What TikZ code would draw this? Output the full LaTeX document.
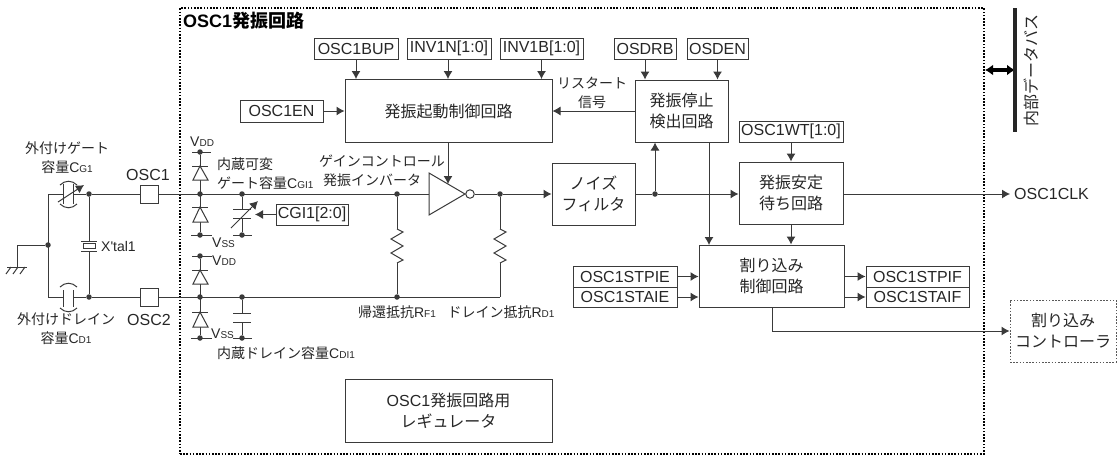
\documentclass[tikz,border=0pt]{standalone}
\usepackage{fontspec}
\setmainfont{Noto Sans CJK JP}
\newfontfamily\latinFont{Liberation Sans}
\usetikzlibrary{arrows.meta}
\definecolor{wireGray}{HTML}{3A3A3A}
\newcommand{\subName}[2]{{\latinFont #1\fontsize{10}{10}\selectfont #2}}
\begin{document}
\begin{tikzpicture}
[x=1pt,y=-1pt,
 lineDecorate/.style={draw=wireGray,line width=1pt},
 arrowDecorate/.style={lineDecorate,-{Latex[length=8pt,width=9pt]}},
 dotDecorate/.style={shape=circle,inner sep=0pt,minimum size=5.5pt,fill=wireGray},
 boxDecorate/.style={shape=rectangle,draw=wireGray,line width=1pt,inner sep=0pt,align=center,text=black!85,font=\fontsize{16}{21}\selectfont},
 regDecorate/.style={boxDecorate,font=\latinFont\fontsize{16}{20}\selectfont},
 textDecorate/.style={inner sep=0pt,align=center,text=black!85,font=\fontsize{14}{19}\selectfont},
 nameDecorate/.style={inner sep=0pt,text=black!85,font=\latinFont\fontsize{16}{20}\selectfont},
 partDecorate/.style={lineDecorate,fill=white}]

 \useasboundingbox (0,0) rectangle (1118,456);

 % chip outline and data bus
 \node (chip) at (582,231) [draw=black,line width=1.3pt,dash pattern=on 1.6pt off 1.6pt,minimum width=804pt,minimum height=446pt] {};
 \node (title) at (183,21) [anchor=west,inner sep=0pt,font=\fontsize{18}{20}\selectfont\bfseries] {{\latinFont OSC1}発振回路};
 \node (busLabel) at (1031,70) [rotate=90,inner sep=0pt,text=black!85,font=\fontsize{16}{18}\selectfont] {内部データバス};
 \coordinate (busTop) at (1015,8);
 \coordinate (busBottom) at (1015,132);
 \coordinate (busPort) at (1015,70);
 \coordinate (chipPort) at (985,70);

 % registers
 \node (bup) at (356,48.5) [regDecorate,minimum width=84pt,minimum height=21pt] {OSC1BUP};
 \node (invN) at (449,48.5) [regDecorate,minimum width=84pt,minimum height=21pt] {INV1N[1:0]};
 \node (invB) at (541.5,48.5) [regDecorate,minimum width=83pt,minimum height=21pt] {INV1B[1:0]};
 \node (drb) at (645,48.5) [regDecorate,minimum width=62pt,minimum height=21pt] {OSDRB};
 \node (den) at (717.5,48.5) [regDecorate,minimum width=61pt,minimum height=21pt] {OSDEN};
 \node (en) at (281.5,111) [regDecorate,minimum width=83pt,minimum height=22pt] {OSC1EN};
 \node (wt) at (791,131.5) [regDecorate,minimum width=104pt,minimum height=21pt] {OSC1WT[1:0]};
 \node (cgi) at (312,214.5) [regDecorate,minimum width=72pt,minimum height=21pt] {CGI1[2:0]};
 \node (stpie) at (625,276.5) [regDecorate,minimum width=104pt,minimum height=21pt] {OSC1STPIE};
 \node (staie) at (625,297) [regDecorate,minimum width=104pt,minimum height=20pt] {OSC1STAIE};
 \node (stpif) at (917.5,276.5) [regDecorate,minimum width=103pt,minimum height=21pt] {OSC1STPIF};
 \node (staif) at (917.5,297) [regDecorate,minimum width=103pt,minimum height=20pt] {OSC1STAIF};

 % blocks
 \node (ctrl) at (448.5,111) [boxDecorate,minimum width=207pt,minimum height=63pt] {発振起動制御回路};
 \node (stop) at (681.5,111) [boxDecorate,minimum width=93pt,minimum height=62pt] {発振停止\\検出回路};
 \node (noise) at (593.5,194) [boxDecorate,minimum width=83pt,minimum height=62pt] {ノイズ\\フィルタ};
 \node (wait) at (791,193) [boxDecorate,minimum width=104pt,minimum height=62pt] {発振安定\\待ち回路};
 \node (irq) at (771.5,276) [boxDecorate,minimum width=145pt,minimum height=62pt] {割り込み\\制御回路};
 \node (reg) at (448.5,410.5) [boxDecorate,minimum width=207pt,minimum height=63pt] {{\latinFont OSC1}発振回路用\\レギュレータ};
 \node (ctl) at (1063,331) [boxDecorate,draw=black!65,dash pattern=on 1.6pt off 1.6pt,minimum width=106pt,minimum height=62pt] {割り込み\\コントローラ};
 \node (clk) at (1014,194) [nameDecorate,anchor=west] {OSC1CLK};

 % pads
 \node (osc1) at (149,194) [boxDecorate,minimum width=18pt,minimum height=18pt] {};
 \node (osc2) at (149,297) [boxDecorate,minimum width=18pt,minimum height=18pt] {};
 \node (osc1Label) at (148,175) [nameDecorate] {OSC1};
 \node (osc2Label) at (149,320) [nameDecorate] {OSC2};

 % junctions
 \foreach \n/\x/\y in {g1/89/194,d1/89/297,gnd/48/245,g2/200/194,d2/200/297,g3/242/194,d3/242/297,g4/397/194,d4/397/297,
 o1/500/194,n1/655/194,vdd1/200/152,vss1/200/235,vss2/242/235,vdd2/200/256,vss3/200/338,vss4/242/338}
 {
  \node (\n) at (\x,\y) [dotDecorate] {};
 }
 \coordinate (gndTop) at (17,245);
 \coordinate (gndBottom) at (17,267);
 \coordinate (gCorner) at (48,194);
 \coordinate (dCorner) at (48,297);
 \coordinate (capGa) at (63,194);
 \coordinate (capGb) at (73,194);
 \coordinate (capDa) at (63,297);
 \coordinate (capDb) at (73,297);
 \coordinate (xtalA) at (89,241);
 \coordinate (xtalB) at (89,251);
 \coordinate (intG1) at (242,209);
 \coordinate (intG2) at (242,218);
 \coordinate (intD1) at (242,313);
 \coordinate (intD2) at (242,322);
 \coordinate (resF1) at (397,229);
 \coordinate (resF2) at (397,263);
 \coordinate (resD1) at (500,229);
 \coordinate (resD2) at (500,263);
 \coordinate (resCorner) at (500,297);
 \coordinate (invIn) at (429,194);
 \coordinate (invGain) at (448,184);
 \coordinate (irqTurn) at (772,331);
 \node (bubble) at (470,194) [shape=circle,draw=wireGray,line width=1pt,inner sep=0pt,minimum size=8.5pt] {};

 % wires
 \draw[lineDecorate] (gndBottom) -- (gndTop) -- (gnd);
 \draw[lineDecorate] (capGa) -- (gCorner) -- (dCorner) -- (capDa);
 \draw[lineDecorate] (capGb) -- (g1) -- (osc1.west);
 \draw[lineDecorate] (capDb) -- (d1) -- (osc2.west);
 \draw[lineDecorate] (g1) -- (xtalA) (xtalB) -- (d1);
 \draw[lineDecorate] (osc1.east) -- (invIn);
 \draw[lineDecorate] (osc2.east) -- (resCorner);
 \draw[lineDecorate] (vdd1) -- (vss1);
 \draw[lineDecorate] (vdd2) -- (vss3);
 \draw[lineDecorate] (g3) -- (intG1) (intG2) -- (vss2);
 \draw[lineDecorate] (d3) -- (intD1) (intD2) -- (vss4);
 \draw[lineDecorate] (g4) -- (resF1) (resF2) -- (d4);
 \draw[lineDecorate] (o1) -- (resD1) (resD2) -- (resCorner);
 \draw[lineDecorate] (bubble) -- (o1);
 \draw[lineDecorate] (noise.east) -- (n1);

 % arrows
 \draw[arrowDecorate] (o1) -- (noise.west);
 \draw[arrowDecorate] (n1) -- (n1 |- stop.south);
 \draw[arrowDecorate] (n1) -- (wait.west |- n1);
 \draw[arrowDecorate] (bup.south) -- (bup.south |- ctrl.north);
 \draw[arrowDecorate] (invN.south -| invGain) -- (invGain |- ctrl.north);
 \draw[arrowDecorate] (invB.south) -- (invB.south |- ctrl.north);
 \draw[arrowDecorate] (drb.south) -- (drb.south |- stop.north);
 \draw[arrowDecorate] (den.south) -- (den.south |- stop.north);
 \draw[arrowDecorate] (en.east) -- (ctrl.west);
 \draw[arrowDecorate] (stop.west) -- (ctrl.east);
 \draw[arrowDecorate] (invGain |- ctrl.south) -- (invGain);
 \draw[arrowDecorate] (wt.south) -- (wait.north);
 \draw[arrowDecorate] (wait.south) -- (wait.south |- irq.north);
 \draw[arrowDecorate] (stop.south -| 709,0) -- (709,245);
 \draw[arrowDecorate] (cgi.west) -- (255,214.5);
 \draw[arrowDecorate] (stpie.east) -- (irq.west |- stpie);
 \draw[arrowDecorate] (staie.east) -- (irq.west |- staie);
 \draw[arrowDecorate] (irq.east |- stpif) -- (stpif.west);
 \draw[arrowDecorate] (irq.east |- staif) -- (staif.west);
 \draw[arrowDecorate] (wait.east |- n1) -- (clk.west -| 1010,0);
 \draw[lineDecorate] (irq.south -| irqTurn) -- (irqTurn);
 \draw[arrowDecorate] (irqTurn) -- (ctl.west |- irqTurn);
 \draw[draw=black,line width=3.2pt,{Latex[length=8pt,width=11pt]}-{Latex[length=8pt,width=11pt]}] (chipPort) -- (busPort);
 \draw[draw=black!85,line width=4pt] (busTop) -- (busBottom);

 % inverter
 \draw[partDecorate] (429,173) -- (465,194) -- (429,215) -- cycle;

 % diodes
 \foreach \t/\b in {166/180,207/222,270/284,312/327}
 {
  \draw[partDecorate] (200,\t) -- (193,\b) -- (208,\b) -- cycle;
  \draw[lineDecorate] (192,\t) -- (208,\t);
 }

 % supply bars
 \draw[lineDecorate] (192,152) -- (211,152);
 \draw[lineDecorate] (191,235) -- (212,235);
 \draw[lineDecorate] (233,235) -- (252,235);
 \draw[lineDecorate] (192,256) -- (212,256);
 \draw[lineDecorate] (191,338) -- (212,338);
 \draw[lineDecorate] (233,338) -- (252,338);

 % capacitors
 \foreach \y in {209,218,313,322}
 {
  \draw[lineDecorate] (233,\y) -- (251,\y);
 }
 \draw[arrowDecorate] (231,228) -- (258,201);
 \draw[lineDecorate] (63,184) -- (63,204) (73,184) -- (73,204);
 \draw[lineDecorate] (63,290) -- (63,307) (73,290) -- (73,307);
 \draw[lineDecorate] (60,185) .. controls (65,180) and (72,180) .. (77,185);
 \draw[lineDecorate] (60,204) .. controls (65,209) and (72,209) .. (77,204);
 \draw[lineDecorate] (60,287) .. controls (65,282) and (72,282) .. (77,287);
 \draw[lineDecorate] (60,308) .. controls (65,313) and (72,313) .. (77,308);
 \draw[arrowDecorate] (58,202) -- (84,185);

 % crystal
 \draw[lineDecorate] (81,241) -- (97,241) (81,251) -- (97,251);
 \draw[lineDecorate] (83,243.5) rectangle (95,248.5);

 % resistors
 \foreach \x in {397,500}
 {
  \draw[lineDecorate] (\x,229) -- ++(6,3) -- ++(-12,7) -- ++(12,7) -- ++(-12,7) -- ++(12,7) -- ++(-6,3);
 }

 % ground
 \draw[lineDecorate] (7,267) -- (27,267);
 \foreach \x in {11,18,25}
 {
  \draw[lineDecorate] (\x,267) -- ++(-5,7);
 }

 % labels
 \node (extG) at (67,158) [textDecorate] {外付けゲート\\容量\subName{C}{G1}};
 \node (extD) at (66,329) [textDecorate] {外付けドレイン\\容量\subName{C}{D1}};
 \node (xtal) at (101,246) [textDecorate,anchor=west,font=\latinFont\fontsize{14}{16}\selectfont] {X'tal1};
 \node (vddA) at (190,142) [textDecorate,anchor=west] {\subName{V}{DD}};
 \node (vssA) at (212,243) [textDecorate,anchor=west] {\subName{V}{SS}};
 \node (vddB) at (212,261) [textDecorate,anchor=west] {\subName{V}{DD}};
 \node (vssB) at (211,334) [textDecorate,anchor=west] {\subName{V}{SS}};
 \node (intVar) at (217,164) [textDecorate,anchor=west] {内蔵可変};
 \node (intGate) at (217,183) [textDecorate,anchor=west] {ゲート容量\subName{C}{GI1}};
 \node (intDrain) at (217,353) [textDecorate,anchor=west] {内蔵ドレイン容量\subName{C}{DI1}};
 \node (gain) at (382,161) [textDecorate] {ゲインコントロール};
 \node (osci) at (372,180) [textDecorate] {発振インバータ};
 \node (fb) at (397,312) [textDecorate] {帰還抵抗\subName{R}{F1}};
 \node (drain) at (501,312) [textDecorate] {ドレイン抵抗\subName{R}{D1}};
 \node (restart) at (592,92.5) [textDecorate] {リスタート\\信号};
\end{tikzpicture}
\end{document}
